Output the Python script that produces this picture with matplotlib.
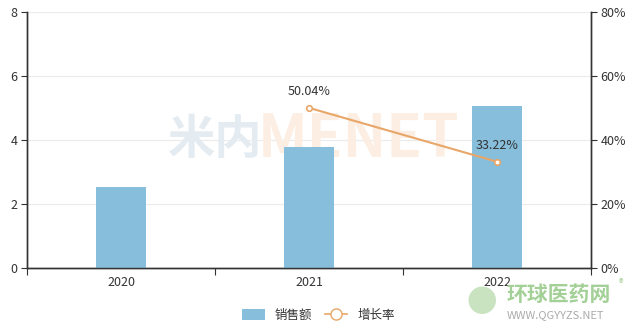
import numpy as np
import matplotlib
matplotlib.use('Agg')
import matplotlib.pyplot as plt
from matplotlib.lines import Line2D
from matplotlib.patches import Patch

plt.rcParams['font.family'] = ['Noto Sans CJK SC', 'DejaVu Sans']

years   = ["2020", "2021", "2022"]
sales   = [2.53, 3.79, 5.06]
growth_years = ["2021", "2022"]
growth  = [50.04, 33.22]

BAR_C  = "#86BEDB"
LINE_C = "#E8A668"
AXIS_C = "#333333"

fig = plt.figure(figsize=(6.37, 3.30), dpi=100)
ax = fig.add_axes([27/637, 62/330, 564/637, 256/330])
ax2 = ax.twinx()

x = np.arange(len(years))
ax.bar(x, sales, width=0.266, color=BAR_C, zorder=3)
ax.set_xlim(-0.5, len(years) - 0.5)
ax.set_ylim(0, 8)
ax.set_yticks(range(0, 9, 2))
ax.yaxis.grid(True, color="#EBEBEB", linewidth=0.8, zorder=0)
ax.set_axisbelow(True)

# category ticks on the band edges, labels centred
ax.set_xticks(np.arange(-0.5, len(years), 1.0))
ax.set_xticklabels([])
ax.set_xticks(x, minor=True)
ax.set_xticklabels(years, minor=True)
ax.tick_params(axis='x', which='minor', length=0, pad=6, labelsize=9, labelcolor=AXIS_C)
ax.tick_params(axis='x', which='major', length=5, color=AXIS_C)
ax.tick_params(axis='y', length=4, color=AXIS_C, labelsize=9, labelcolor=AXIS_C, pad=3)

gx = [years.index(y) for y in growth_years]
ax2.plot(gx, growth, color=LINE_C, linewidth=1.5, marker='o', markersize=4,
         markerfacecolor='white', markeredgecolor=LINE_C, markeredgewidth=1.2, zorder=5)
for xi, v in zip(gx, growth):
    ax2.text(xi, v + 3, f"{v:.2f}%", ha='center', va='bottom', fontsize=9, color=AXIS_C)
ax2.set_ylim(0, 80)
ax2.set_yticks(range(0, 81, 20))
ax2.set_yticklabels([f"{v}%" for v in range(0, 81, 20)])
ax2.tick_params(axis='y', length=4, color=AXIS_C, labelsize=9, labelcolor=AXIS_C, pad=3)

for a in (ax, ax2):
    a.spines['top'].set_visible(False)
    for s in ('left', 'right', 'bottom'):
        a.spines[s].set_color(AXIS_C)
        a.spines[s].set_linewidth(1)

# watermarks (behind the bars)
ax.text(168/637, 0.576, "米内", transform=fig.transFigure, fontsize=34, fontweight='black',
        color="#E4ECF2", ha='left', va='center', zorder=1)
ax.text(258/637, 0.576, "MENET", transform=fig.transFigure, fontsize=42, fontweight='black',
        color="#FCEEE2", ha='left', va='center', zorder=1)
fig.text(466/637, 0.08, "●", fontsize=22, color="#C9E3C0", ha='left', va='center')
fig.text(0.795, 0.108, "环球医药网", fontsize=15, fontweight='bold', color="#A3D096",
         ha='left', va='center')
fig.text(0.972, 0.14, "®", fontsize=7, color="#A3D096", ha='left', va='center')
fig.text(0.795, 0.045, "WWW.QGYYZS.NET", fontsize=8, color="#ABABAB",
         ha='left', va='center')

handles = [Patch(facecolor=BAR_C, edgecolor='none'),
           Line2D([0], [0], color=LINE_C, linewidth=1.2, marker='o', markersize=8,
                  markerfacecolor='white', markeredgecolor=LINE_C)]
fig.legend(handles, ["销售额", "增长率"], loc='lower center', ncol=2,
           bbox_to_anchor=(0.5, -0.01), frameon=False, fontsize=9,
           handlelength=1.8, handleheight=1.0, columnspacing=1.0,
           labelcolor=AXIS_C)

fig.savefig("out.png", dpi=100)
